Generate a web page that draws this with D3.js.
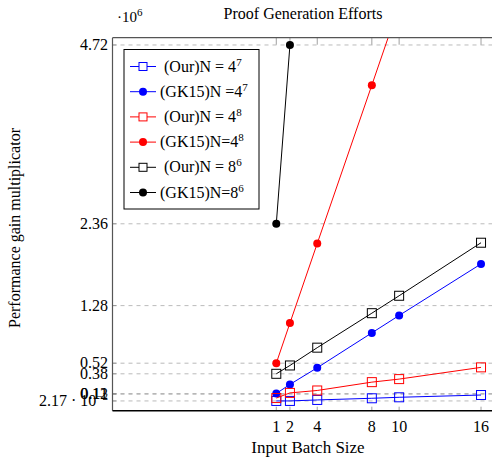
<!DOCTYPE html>
<html>
<head>
<meta charset="utf-8">
<script src="https://cdn.jsdelivr.net/npm/d3@7"></script>
<style>
  body { margin: 0; background: #fff; }
  text { font-family: "Liberation Serif", "DejaVu Serif", serif; fill: #000; }
</style>
</head>
<body>
<div id="chart"></div>
<script>
// batch sizes on the x axis
var batchSizes = [1, 2, 4, 8, 10, 16];
var xTicks = [1, 2, 4, 8, 10, 16];
// y ticks (in units of 10^6)
var yTicks = [0.0217, 0.11, 0.12, 0.38, 0.52, 1.28, 2.36, 4.72];
var yTickLabels = ["2.17 \u00b7 10", "0.11", "0.12", "0.38", "0.52", "1.28", "2.36", "4.72"];

// series values (x 10^6)
var our47 = [0.0217, 0.022, 0.035, 0.057, 0.07, 0.10];
var gk47 = [0.12, 0.24, 0.46, 0.92, 1.15, 1.83];
var our48 = [0.06, 0.128, 0.16, 0.27, 0.31, 0.465];
var gk48 = [0.52, 1.05, 2.10, 4.19, 5.24, 8.38];
var our86 = [0.38, 0.49, 0.725, 1.18, 1.41, 2.11];
var gk86 = [2.36, 4.72];

var seriesNames = ["(Our)N = 4", "(GK15)N =4", "(Our)N = 4", "(GK15)N=4", "(Our)N = 8", "(GK15)N=8"];
var seriesExp = ["7", "7", "8", "8", "6", "6"];
var seriesData = [our47, gk47, our48, gk48, our86, gk86];
var seriesColor = ["#0000ff", "#0000ff", "#ff0000", "#ff0000", "#000000", "#000000"];
var seriesMark = ["square", "circle", "square", "circle", "square", "circle"];

var W = 492, H = 459;
var margin = { top: 37.7, left: 112.5 };
var plotRight = 497, plotBottom = 410.7;

var svg = d3.select("#chart").append("svg")
    .attr("width", W)
    .attr("height", H);

var x = d3.scaleLinear()
    .domain([-11, 17.17])
    .range([margin.left, plotRight]);

var y = d3.scaleLinear()
    .domain([-0.107, 4.816])
    .range([plotBottom, margin.top]);

svg.append("defs").append("clipPath")
    .attr("id", "plotclip")
    .append("rect")
    .attr("x", margin.left)
    .attr("y", margin.top)
    .attr("width", plotRight - margin.left)
    .attr("height", plotBottom - margin.top);

// horizontal dashed grid
svg.append("g")
    .selectAll("line")
    .data(yTicks)
    .join("line")
    .attr("x1", margin.left)
    .attr("x2", plotRight)
    .attr("y1", d => y(d))
    .attr("y2", d => y(d))
    .style("stroke", "#a8a8a8")
    .style("stroke-width", 0.8)
    .style("stroke-dasharray", "4,4");

// ticks, inside on all sides
var tickLen = 4;
svg.append("g")
    .selectAll("line")
    .data(xTicks)
    .join("line")
    .attr("x1", d => x(d)).attr("x2", d => x(d))
    .attr("y1", plotBottom).attr("y2", plotBottom - tickLen)
    .style("stroke", "#888").style("stroke-width", 0.8);
svg.append("g")
    .selectAll("line")
    .data(xTicks)
    .join("line")
    .attr("x1", d => x(d)).attr("x2", d => x(d))
    .attr("y1", margin.top).attr("y2", margin.top + tickLen + 3)
    .style("stroke", "#888").style("stroke-width", 0.8);
svg.append("g")
    .selectAll("line")
    .data(yTicks)
    .join("line")
    .attr("x1", margin.left).attr("x2", margin.left + tickLen)
    .attr("y1", d => y(d)).attr("y2", d => y(d))
    .style("stroke", "#888").style("stroke-width", 0.8);

// tick labels
svg.append("g")
    .selectAll("text")
    .data(xTicks)
    .join("text")
    .attr("x", d => x(d))
    .attr("y", 432)
    .attr("text-anchor", "middle")
    .style("font-size", "16px")
    .text(d => d);

var yl = svg.append("g")
    .selectAll("text")
    .data(yTicks)
    .join("text")
    .attr("x", 108)
    .attr("y", d => y(d) + 5)
    .attr("text-anchor", "end")
    .style("font-size", "16px");
yl.each(function (d, i) {
    var t = d3.select(this);
    if (i == 0) {
        t.append("tspan").text(yTickLabels[i]);
        t.append("tspan").attr("dy", -6).style("font-size", "11px").text("\u22122");
    } else {
        t.text(yTickLabels[i]);
    }
});

// x10^6 marker
var m = svg.append("text")
    .attr("x", 117)
    .attr("y", 22)
    .style("font-size", "15px");
m.append("tspan").text("\u00b710");
m.append("tspan").attr("dy", -6).style("font-size", "11px").text("6");

// series
var plot = svg.append("g").attr("clip-path", "url(#plotclip)");
var line = d3.line()
    .x((d, i) => x(batchSizes[i]))
    .y(d => y(d));

seriesData.forEach(function (vals, s) {
    var g = plot.append("g");
    g.append("path")
        .attr("d", line(vals))
        .style("fill", "none")
        .style("stroke", seriesColor[s])
        .style("stroke-width", 1);
    if (seriesMark[s] == "square") {
        g.selectAll("rect")
            .data(vals)
            .join("rect")
            .attr("x", (d, i) => x(batchSizes[i]) - 4.5)
            .attr("y", d => y(d) - 4.5)
            .attr("width", 9)
            .attr("height", 9)
            .style("fill", "none")
            .style("stroke", seriesColor[s])
            .style("stroke-width", 1);
    } else {
        g.selectAll("circle")
            .data(vals)
            .join("circle")
            .attr("cx", (d, i) => x(batchSizes[i]))
            .attr("cy", d => y(d))
            .attr("r", 4)
            .style("fill", seriesColor[s]);
    }
});

// axis frame
svg.append("line")
    .attr("x1", margin.left).attr("x2", margin.left)
    .attr("y1", margin.top).attr("y2", plotBottom)
    .style("stroke", "#555").style("stroke-width", 1.2);
svg.append("line")
    .attr("x1", margin.left).attr("x2", plotRight)
    .attr("y1", plotBottom).attr("y2", plotBottom)
    .style("stroke", "#000").style("stroke-width", 1.5);
svg.append("line")
    .attr("x1", margin.left).attr("x2", plotRight)
    .attr("y1", margin.top).attr("y2", margin.top)
    .style("stroke", "#555").style("stroke-width", 1.2);

// legend
var lg = svg.append("g");
lg.append("rect")
    .attr("x", 124)
    .attr("y", 49.5)
    .attr("width", 135)
    .attr("height", 159.5)
    .style("fill", "#fff")
    .style("stroke", "#000")
    .style("stroke-width", 1);

seriesNames.forEach(function (name, s) {
    var ly = 66.5 + s * 25.2;
    lg.append("line")
        .attr("x1", 130).attr("x2", 156)
        .attr("y1", ly).attr("y2", ly)
        .style("stroke", seriesColor[s]).style("stroke-width", 1);
    if (seriesMark[s] == "square") {
        lg.append("rect")
            .attr("x", 143 - 4).attr("y", ly - 4)
            .attr("width", 8).attr("height", 8)
            .style("fill", "#fff")
            .style("stroke", seriesColor[s]);
    } else {
        lg.append("circle")
            .attr("cx", 143).attr("cy", ly).attr("r", 4)
            .style("fill", seriesColor[s]);
    }
    var t = lg.append("text")
        .attr("x", name.indexOf("GK15") > 0 ? 160 : 164)
        .attr("y", ly + 5)
        .style("font-size", "16px");
    t.append("tspan").text(name);
    t.append("tspan").attr("dy", -6).style("font-size", "11px").text(seriesExp[s]);
});

// title and axis labels
svg.append("text")
    .attr("x", 303)
    .attr("y", 19)
    .attr("text-anchor", "middle")
    .style("font-size", "16px")
    .text("Proof Generation Efforts");

svg.append("text")
    .attr("x", 308)
    .attr("y", 453)
    .attr("text-anchor", "middle")
    .style("font-size", "17px")
    .text("Input Batch Size");

svg.append("text")
    .attr("transform", "translate(20," + 228 + ") rotate(-90)")
    .attr("text-anchor", "middle")
    .style("font-size", "16px")
    .text("Performance gain multiplicator");
</script>
</body>
</html>
